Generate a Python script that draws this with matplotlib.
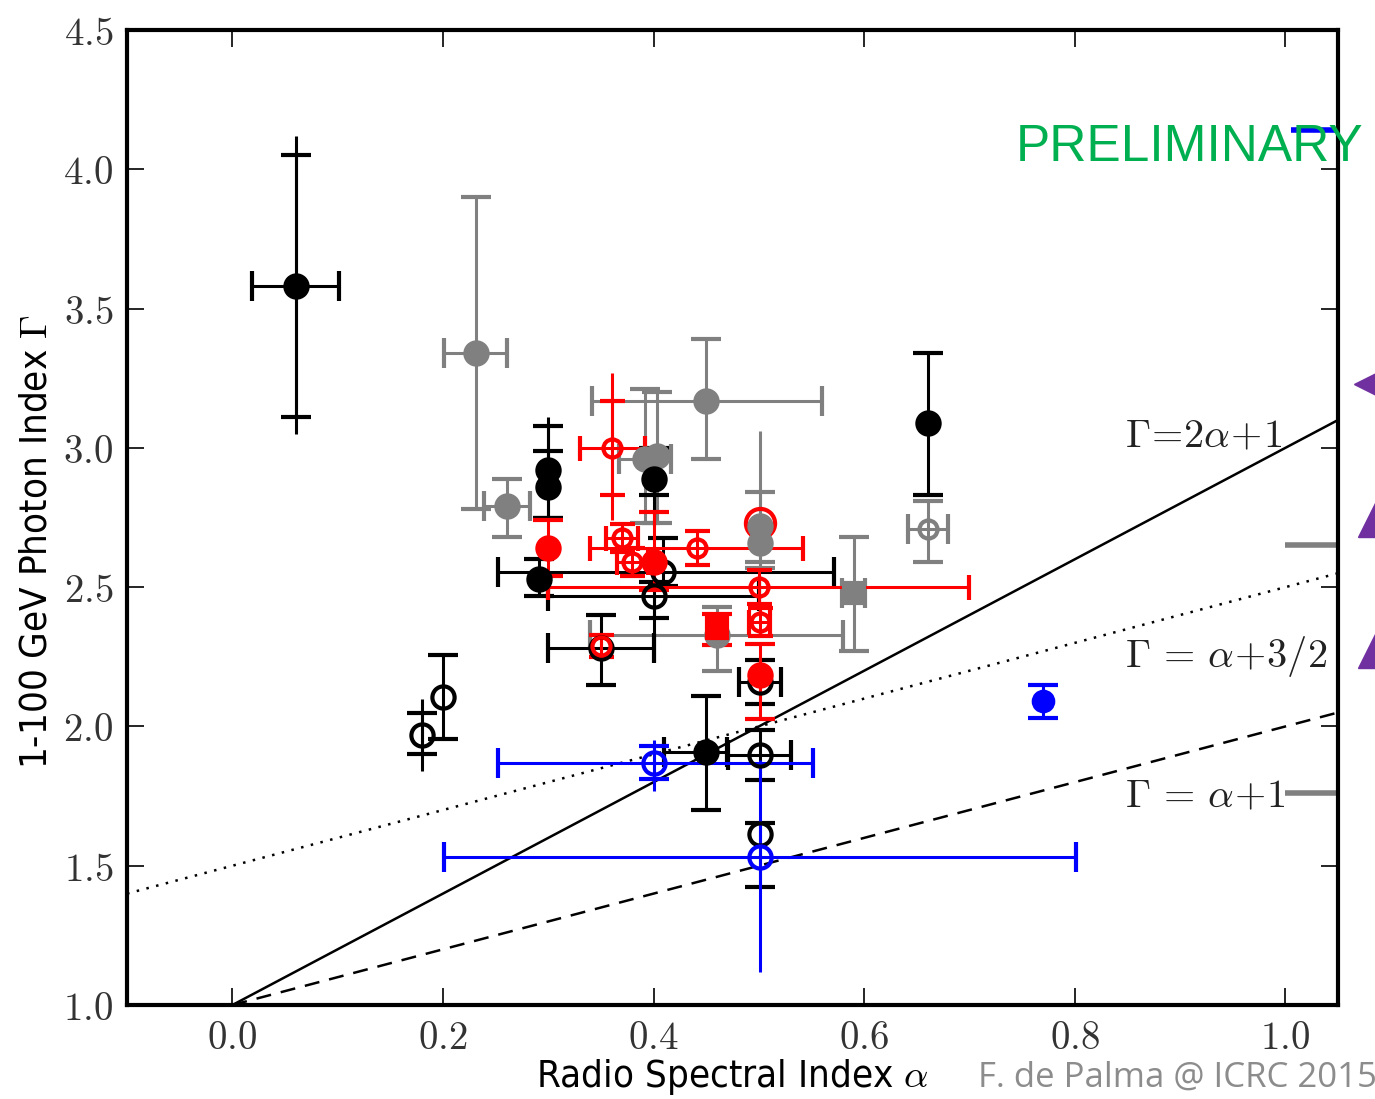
import numpy as np
import matplotlib.pyplot as plt
from matplotlib.ticker import FixedLocator, FixedFormatter

plt.rcParams['mathtext.fontset'] = 'cm'

# --- data ------------------------------------------------------------------
# each row: x, y, xerr_lo, xerr_hi, yerr_lo, yerr_hi, ytot_lo, ytot_hi
# (yerr drawn with caps, ytot = outer error drawn as a plain line)
black_filled = [
    (0.060, 3.58, 0.041, 0.041, 0.47, 0.47, 0.53, 0.54),
    (0.300, 2.92, 0.0, 0.0, 0.17, 0.16, 0.0, 0.19),
    (0.300, 2.86, 0.0, 0.0, 0.11, 0.13, 0.0, 0.0),
    (0.291, 2.53, 0.0, 0.0, 0.06, 0.07, 0.0, 0.0),
    (0.450, 1.91, 0.040, 0.020, 0.21, 0.20, 0.0, 0.0),
    (0.661, 3.09, 0.0, 0.0, 0.26, 0.25, 0.0, 0.0),
    (0.400, 2.89, 0.0, 0.0, 0.06, 0.11, 0.17, 0.0),
]
black_open = [
    (0.180, 1.97, 0.0, 0.0, 0.07, 0.08, 0.13, 0.13),
    (0.200, 2.105, 0.0, 0.0, 0.15, 0.15, 0.0, 0.0),
    (0.350, 2.28, 0.050, 0.050, 0.13, 0.12, 0.0, 0.0),
    (0.409, 2.555, 0.157, 0.162, 0.05, 0.12, 0.0, 0.0),
    (0.400, 2.47, 0.100, 0.100, 0.08, 0.05, 0.24, 0.0),
    (0.501, 2.16, 0.020, 0.020, 0.08, 0.08, 0.0, 0.0),
    (0.501, 1.897, 0.030, 0.030, 0.09, 0.09, 0.0, 0.0),
    (0.501, 1.615, 0.0, 0.0, 0.19, 0.04, 0.0, 0.0),
]
gray_filled = [
    (0.231, 3.34, 0.030, 0.030, 0.56, 0.56, 0.0, 0.0),
    (0.261, 2.79, 0.022, 0.022, 0.11, 0.10, 0.0, 0.0),
    (0.450, 3.17, 0.108, 0.110, 0.21, 0.22, 0.0, 0.0),
    (0.392, 2.96, 0.025, 0.025, 0.23, 0.25, 0.0, 0.0),
    (0.403, 2.97, 0.0, 0.0, 0.24, 0.23, 0.0, 0.0),
    (0.501, 2.72, 0.0, 0.0, 0.15, 0.12, 0.0, 0.34),
    (0.501, 2.66, 0.0, 0.0, 0.07, 0.06, 0.0, 0.0),
    (0.460, 2.33, 0.120, 0.120, 0.13, 0.10, 0.0, 0.0),
]
gray_square = [
    (0.590, 2.48, 0.011, 0.011, 0.21, 0.20, 0.0, 0.0),
]
gray_open = [
    (0.661, 2.71, 0.019, 0.019, 0.12, 0.10, 0.0, 0.0),
]
red_filled = [
    (0.300, 2.64, 0.0, 0.0, 0.10, 0.10, 0.0, 0.0),
    (0.400, 2.59, 0.0, 0.0, 0.10, 0.18, 0.0, 0.0),
    (0.501, 2.185, 0.0, 0.0, 0.16, 0.11, 0.0, 0.0),
]
red_square = [
    (0.460, 2.353, 0.0, 0.0, 0.06, 0.05, 0.0, 0.0),
]
red_open = [
    (0.361, 3.00, 0.031, 0.031, 0.17, 0.17, 0.26, 0.27),
    (0.370, 2.676, 0.015, 0.015, 0.05, 0.05, 0.0, 0.0),
    (0.380, 2.59, 0.015, 0.015, 0.05, 0.05, 0.0, 0.0),
    (0.441, 2.64, 0.101, 0.101, 0.06, 0.06, 0.0, 0.0),
    (0.500, 2.50, 0.200, 0.200, 0.06, 0.06, 0.0, 0.0),
    (0.501, 2.375, 0.010, 0.010, 0.05, 0.05, 0.0, 0.0),
    (0.350, 2.29, 0.0, 0.0, 0.04, 0.04, 0.0, 0.0),
]
red_big_ring = [(0.501, 2.73)]
blue_filled = [
    (0.770, 2.09, 0.0, 0.0, 0.06, 0.06, 0.0, 0.0),
]
blue_open = [
    (0.400, 1.87, 0.148, 0.151, 0.06, 0.06, 0.10, 0.08),
    (0.501, 1.53, 0.300, 0.300, 0.0, 0.0, 0.41, 0.35),
]

# bars at the right edge of the frame (x from, x to, y)
edge_bars_gray = [(1.0, 1.05, 2.65), (1.0, 1.05, 1.76)]
edge_bars_blue = [(1.005, 1.05, 4.14)]
# purple markers sticking out past the frame
tri_y = [3.23, 2.74, 2.27]
tri_marker = ['<', '^', '^']
tri_size = [30, 24, 24]

line_alpha = np.array([-0.1, 1.05])

xticks = [0.0, 0.2, 0.4, 0.6, 0.8, 1.0]
yticks = [1.0, 1.5, 2.0, 2.5, 3.0, 3.5, 4.0, 4.5]

GRAY = '#808080'
NARROW = dict(family='DejaVu Sans', stretch='condensed')


def draw(ax, rows, color, filled=True, marker='o', ms=16, capsize=11):
    for x, y, xl, xh, yl, yh, tl, th in rows:
        if tl or th:
            ax.errorbar(x, y, yerr=[[tl], [th]], fmt='none', ecolor=color,
                        elinewidth=2.2, capsize=0)
        xerr = [[xl], [xh]] if (xl or xh) else None
        yerr = [[yl], [yh]] if (yl or yh) else None
        ax.errorbar(x, y, xerr=xerr, yerr=yerr, fmt=marker, color=color,
                    mfc=color if filled else 'none', mec=color, ms=ms, mew=3,
                    elinewidth=2.2, capsize=capsize, capthick=2.2)


fig = plt.figure(figsize=(13.75, 10.99), dpi=100)
ax = fig.add_axes([0.0924, 0.0855, 0.8807, 0.8872])

# model lines
ax.plot(np.array([0.0, 1.05]), 2 * np.array([0.0, 1.05]) + 1, color='k', lw=1.8)
ax.plot(line_alpha, line_alpha + 1.5, color='k', lw=1.8, ls=(0, (1, 3)))
ax.plot(np.array([0.0, 1.05]), np.array([0.0, 1.05]) + 1, color='k', lw=1.8,
        ls=(0, (6, 4)))

draw(ax, gray_filled, GRAY)
draw(ax, gray_square, GRAY, marker='s', ms=14)
draw(ax, gray_open, GRAY, filled=False, ms=13)
draw(ax, black_filled, 'k')
draw(ax, black_open, 'k', filled=False)
draw(ax, red_filled, 'red')
draw(ax, red_square, 'red', marker='s', ms=14)
draw(ax, red_open, 'red', filled=False, ms=13, capsize=9)
for x, y in red_big_ring:
    ax.plot(x, y, 'o', mfc='none', mec='red', ms=21, mew=3)
draw(ax, blue_filled, 'blue', ms=14)
draw(ax, blue_open, 'blue', filled=False)

for x0, x1, y in edge_bars_gray:
    ax.plot([x0, x1], [y, y], color=GRAY, lw=4, solid_capstyle='butt')
for x0, x1, y in edge_bars_blue:
    ax.plot([x0, x1], [y, y], color='blue', lw=4, solid_capstyle='butt')
for y, m, s in zip(tri_y, tri_marker, tri_size):
    ax.plot(1.085, y, m, color='#7030a0', ms=s, clip_on=False)

ax.text(0.848, 3.04, r'$\Gamma\!=\!2\alpha\!+\!1$', fontsize=29, color='#222222',
        va='center')
ax.text(0.848, 2.25, r'$\Gamma\,=\,\alpha\!+\!3/2$', fontsize=29,
        color='#222222', va='center')
ax.text(0.848, 1.75, r'$\Gamma\,=\,\alpha\!+\!1$', fontsize=29, color='#222222',
        va='center')
ax.text(0.744, 4.08, 'PRELIMINARY', fontsize=37, color='#00b050',
        va='center', family='Liberation Sans', clip_on=False)

ax.set_xlim(-0.1, 1.05)
ax.set_ylim(1.0, 4.5)
ax.xaxis.set_major_locator(FixedLocator(xticks))
ax.yaxis.set_major_locator(FixedLocator(yticks))
ax.xaxis.set_major_formatter(FixedFormatter([r'$%.1f$' % v for v in xticks]))
ax.yaxis.set_major_formatter(FixedFormatter([r'$%.1f$' % v for v in yticks]))
ax.tick_params(direction='in', length=12, width=1.2, top=True, right=True,
               labelsize=28, labelcolor='#333333', pad=10)
for sp in ax.spines.values():
    sp.set_linewidth(3)

ax.set_xlabel(r'Radio Spectral Index $\alpha$', fontsize=27.5, labelpad=0,
              **NARROW)
ax.set_ylabel(r'1-100 GeV Photon Index $\Gamma$', fontsize=27.5, **NARROW)
ax.yaxis.set_label_coords(-0.06, 0.475)

fig.text(978 / 1375, 1 - 1078 / 1099, 'F. de Palma @ ICRC 2015', fontsize=25,
         color='#8c8c8c', va='center', family='Open Sans')

fig.savefig('out.png', dpi=100)
